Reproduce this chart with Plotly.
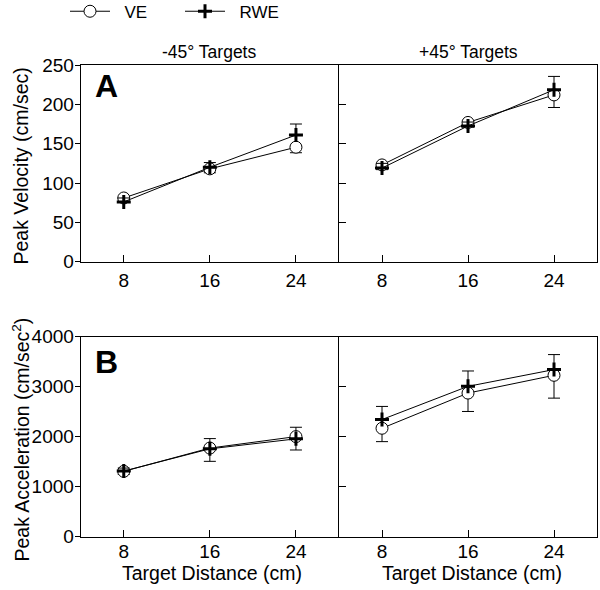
import plotly.graph_objects as go

W, H = 600, 590
FONT = "Arial, Liberation Sans, sans-serif"

distances = [8, 16, 24]
tick_vals_x = [8, 16, 24]

# Panel A: peak velocity (cm/sec)
vel_neg_ve = [81, 118, 145.5]
vel_neg_ve_err = [4, 5, 7]
vel_neg_rwe = [76, 120, 161]
vel_neg_rwe_err = [5, 6, 14]

vel_pos_ve = [123, 177, 212]
vel_pos_ve_err = [6, 6, 16]
vel_pos_rwe = [119, 172.5, 218.5]
vel_pos_rwe_err = [6, 5, 17]

# Panel B: peak acceleration (cm/sec^2)
acc_neg_ve = [1305, 1770, 2000]
acc_neg_ve_err = [60, 265, 268]
acc_neg_rwe = [1310, 1755, 1955]
acc_neg_rwe_err = [60, 205, 232]

acc_pos_ve = [2167, 2871, 3227]
acc_pos_ve_err = [268, 368, 457]
acc_pos_rwe = [2342, 3006, 3342]
acc_pos_rwe_err = [262, 308, 300]

vel_ticks = [0, 50, 100, 150, 200, 250]
acc_ticks = [0, 1000, 2000, 3000, 4000]

def px_x(p):
    return p / W

def px_y(p):
    return (H - p) / H

fig = go.Figure()

panels = [
    ("x", "y", vel_neg_ve, vel_neg_ve_err, vel_neg_rwe, vel_neg_rwe_err, True),
    ("x2", "y2", vel_pos_ve, vel_pos_ve_err, vel_pos_rwe, vel_pos_rwe_err, False),
    ("x3", "y3", acc_neg_ve, acc_neg_ve_err, acc_neg_rwe, acc_neg_rwe_err, False),
    ("x4", "y4", acc_pos_ve, acc_pos_ve_err, acc_pos_rwe, acc_pos_rwe_err, False),
]

NB = "\u00a0"
for xa, ya, ve, ve_err, rwe, rwe_err, show in panels:
    fig.add_trace(go.Scatter(
        x=distances, y=ve, xaxis=xa, yaxis=ya, name=NB * 2 + "VE", showlegend=show,
        mode="lines+markers",
        line=dict(color="black", width=1),
        marker=dict(symbol="circle", size=12, color="white",
                    line=dict(color="black", width=1)),
        error_y=dict(type="data", symmetric=False, array=[0, 0, 0],
                     arrayminus=ve_err, color="black", thickness=1, width=6),
    ))
    fig.add_trace(go.Scatter(
        x=distances, y=rwe, xaxis=xa, yaxis=ya, name=NB * 2 + "RWE", showlegend=show,
        mode="lines+markers",
        line=dict(color="black", width=1),
        marker=dict(symbol="cross-thin", size=10, color="black",
                    line=dict(color="black", width=3)),
        error_y=dict(type="data", symmetric=False, array=rwe_err,
                     arrayminus=[0, 0, 0], color="black", thickness=1, width=6),
    ))

left_dom = [px_x(80.7), px_x(339)]
right_dom = [px_x(339), px_x(597)]
top_dom = [px_y(261.7), px_y(65)]
bot_dom = [px_y(536.5), px_y(336.7)]

tickfont = dict(family=FONT, size=19, color="black")

def xaxis(dom, anchor, standoff):
    return dict(domain=dom, anchor=anchor, range=[4, 28], tickvals=tick_vals_x,
                ticks="inside", ticklen=7, tickwidth=1, tickcolor="black",
                ticklabelstandoff=standoff,
                showline=True, mirror=True, linecolor="black", linewidth=1,
                showgrid=False, zeroline=False, tickfont=tickfont,
                automargin=False)

def yaxis(dom, anchor, rng, tv, left):
    return dict(domain=dom, anchor=anchor, range=rng, tickvals=tv,
                ticks="outside" if left else "inside", ticklen=5 if left else 7,
                tickwidth=1, tickcolor="black", showticklabels=left,
                ticklabelstandoff=-3,
                showline=True, mirror=False if left else True,
                linecolor="black", linewidth=1,
                showgrid=False, zeroline=False, tickfont=tickfont,
                automargin=False)

fig.update_layout(
    width=W, height=H,
    margin=dict(l=0, r=0, t=0, b=0, autoexpand=False),
    paper_bgcolor="white", plot_bgcolor="white",
    font=dict(family=FONT, color="black"),
    xaxis=xaxis(left_dom, "y", 1),
    xaxis2=xaxis(right_dom, "y2", 1),
    xaxis3=xaxis(left_dom, "y3", -2),
    xaxis4=xaxis(right_dom, "y4", -2),
    yaxis=yaxis(top_dom, "x", [0, 250], vel_ticks, True),
    yaxis2=yaxis(top_dom, "x2", [0, 250], vel_ticks, False),
    yaxis3=yaxis(bot_dom, "x3", [0, 4000], acc_ticks, True),
    yaxis4=yaxis(bot_dom, "x4", [0, 4000], acc_ticks, False),
    legend=dict(orientation="h", x=px_x(65), y=px_y(-6.3), xanchor="left", yanchor="top",
                font=dict(family=FONT, size=17, color="black"),
                entrywidth=60, entrywidthmode="pixels",
                bgcolor="rgba(0,0,0,0)", itemwidth=40),
)

ann = [
    dict(text="-45° Targets", x=px_x(209), y=px_y(52.5), size=17.5),
    dict(text="+45° Targets", x=px_x(468), y=px_y(52.5), size=17.5),
    dict(text="Target Distance (cm)", x=px_x(212), y=px_y(573), size=19.5),
    dict(text="Target Distance (cm)", x=px_x(471.5), y=px_y(573), size=19.5),
]
for a in ann:
    fig.add_annotation(text=a["text"], x=a["x"], y=a["y"], xref="paper", yref="paper",
                       xanchor="center", yanchor="middle", showarrow=False,
                       font=dict(family=FONT, size=a["size"], color="black"))

for txt, yc in [("Peak Velocity (cm/sec)", 166), ("Peak Acceleration (cm/sec<sup>2</sup>)", 440)]:
    fig.add_annotation(text=txt, x=px_x(20.5), y=px_y(yc), xref="paper", yref="paper",
                       xanchor="center", yanchor="middle", showarrow=False, textangle=-90,
                       font=dict(family=FONT, size=19.5, color="black"))

for txt, yc in [("<b>A</b>", 86.5), ("<b>B</b>", 361.7)]:
    fig.add_annotation(text=txt, x=px_x(106.7), y=px_y(yc), xref="paper", yref="paper",
                       xanchor="center", yanchor="middle", showarrow=False,
                       font=dict(family=FONT, size=32, color="black"))

fig.write_html("out.html", config={"displayModeBar": False},
               post_script="document.body.style.margin='0';")
